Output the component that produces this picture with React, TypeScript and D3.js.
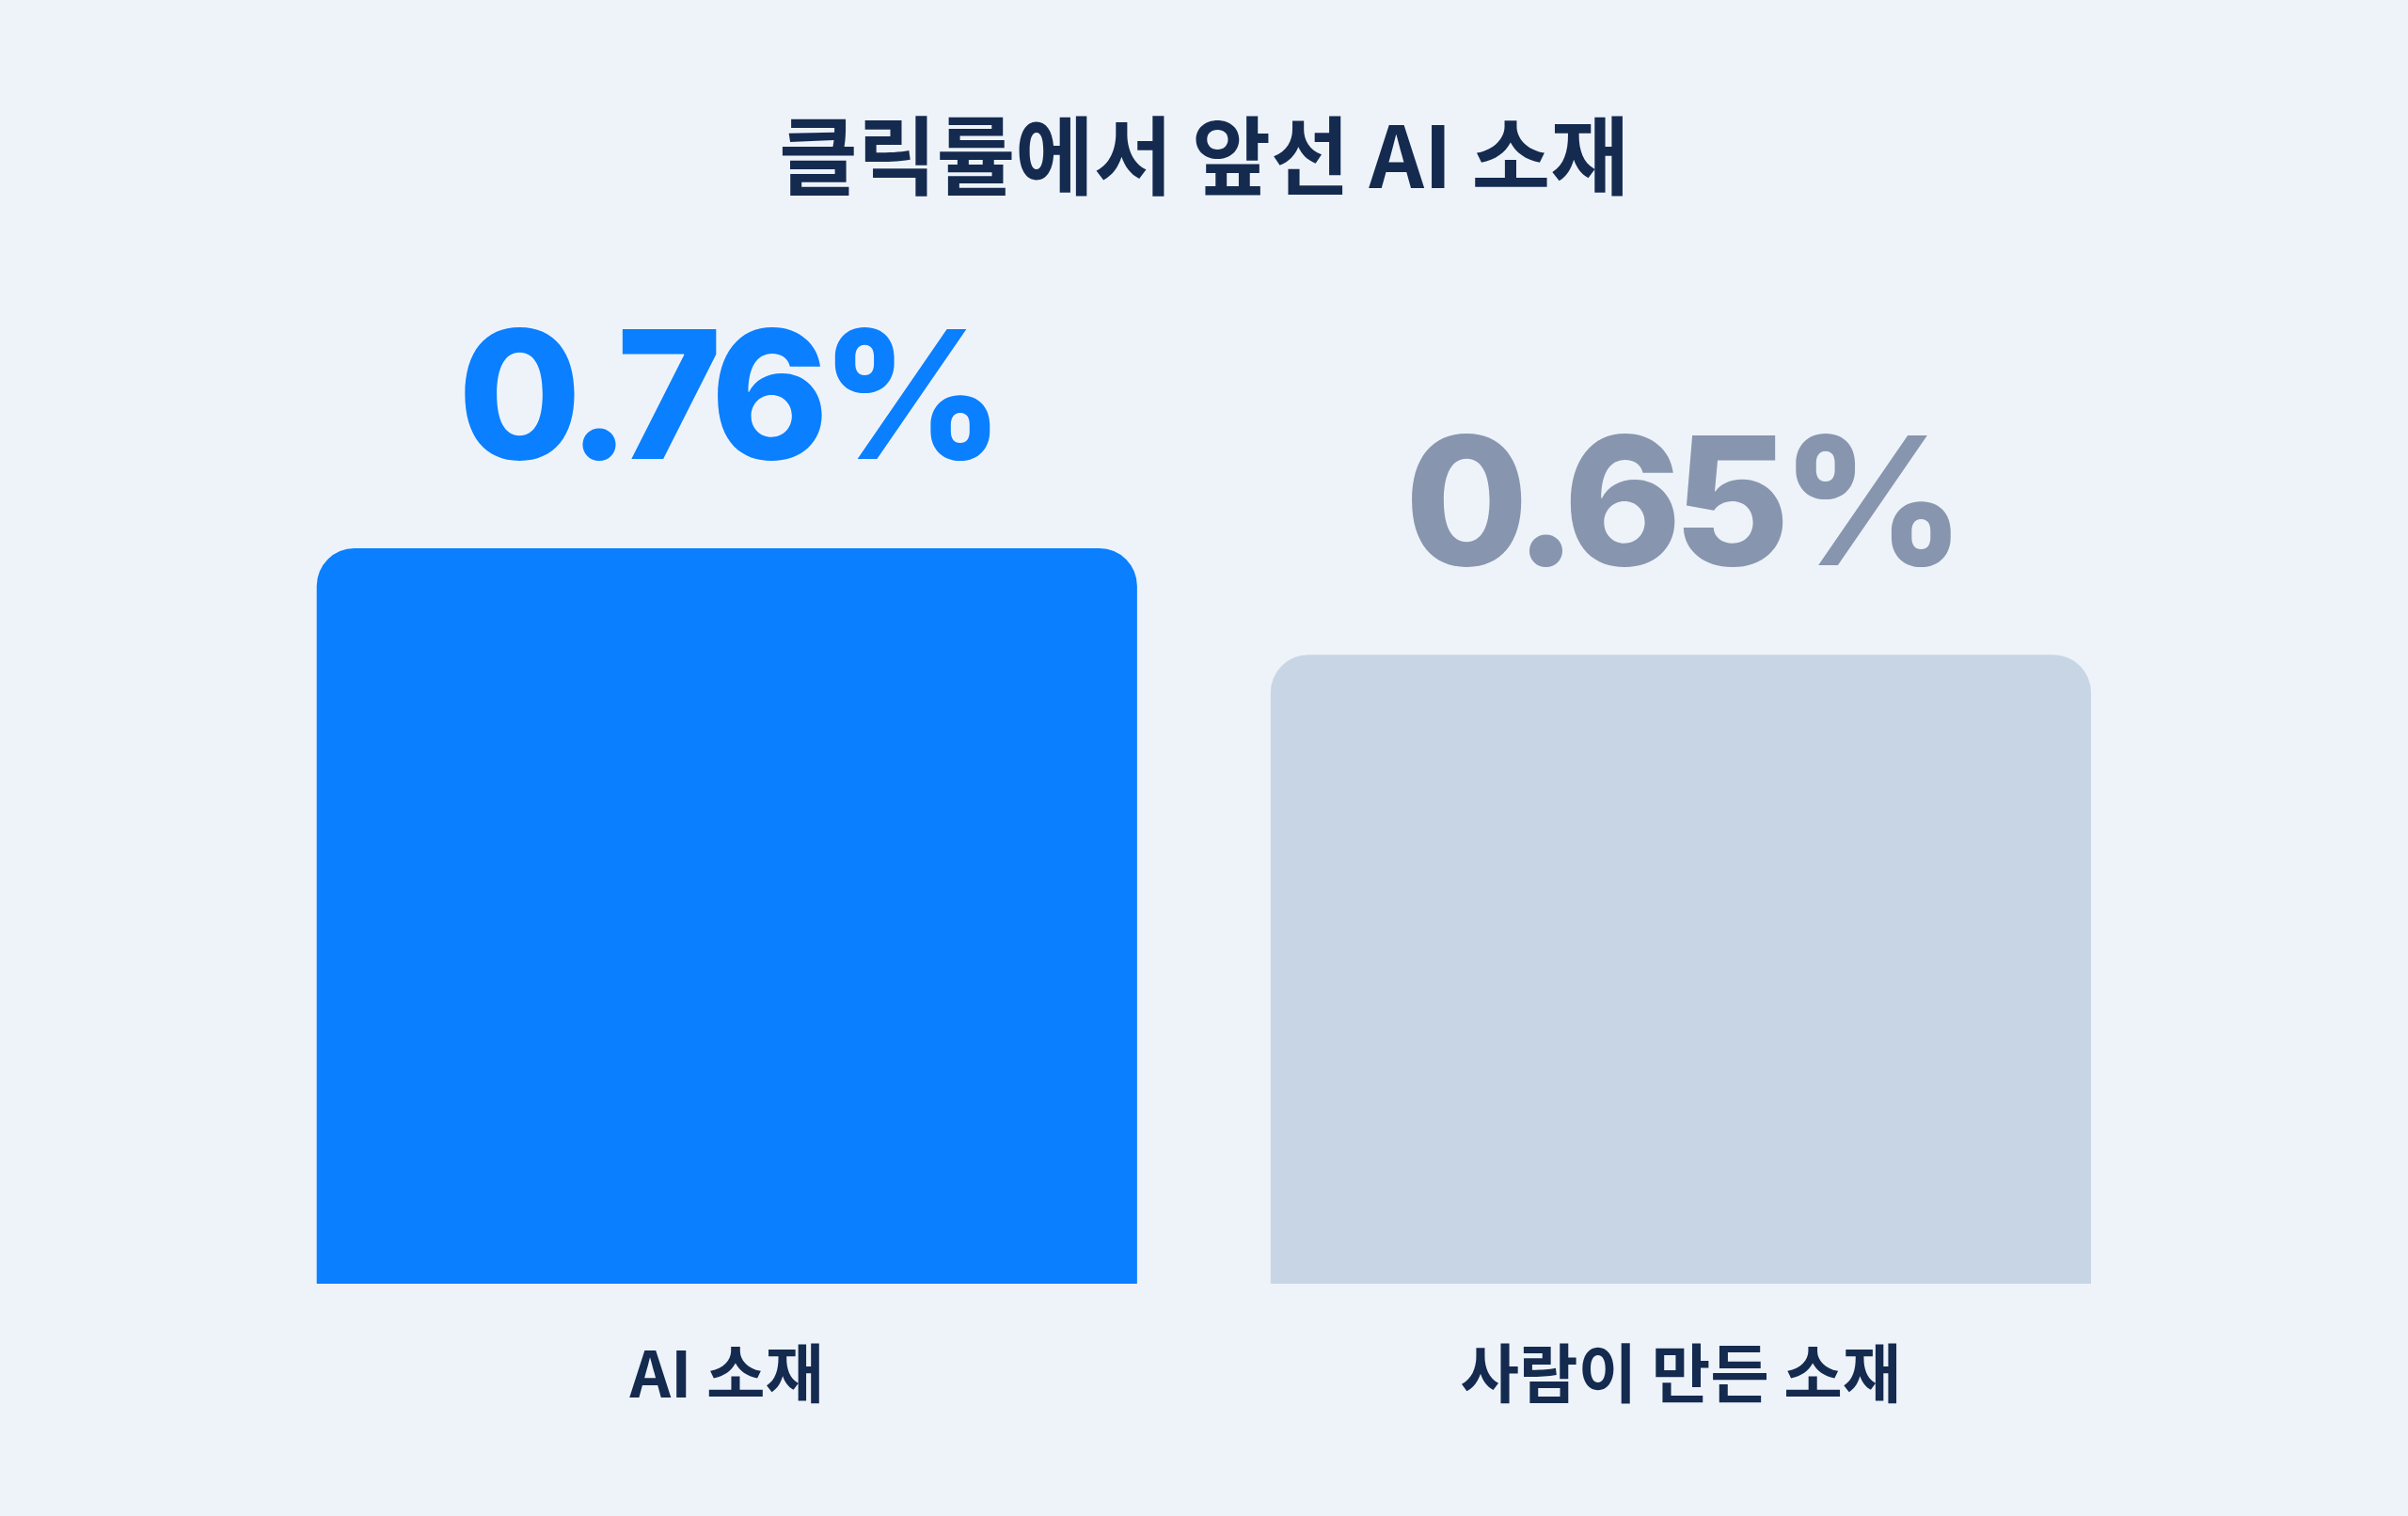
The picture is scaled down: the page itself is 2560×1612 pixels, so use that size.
import * as React from "react";
import * as d3 from "d3";

const categories = ["AI 소재", "사람이 만든 소재"];
const clickRates = [0.76, 0.65];
const valueLabels = ["0.76%", "0.65%"];
const title = "클릭률에서 앞선 AI 소재";

const WIDTH = 2560;
const HEIGHT = 1612;
const BASELINE = 1365;
const RADIUS = 40;

const BAR_FILL = ["#0A7FFF", "#C8D5E5"];
const LABEL_FILL = ["#0A7FFF", "#8796AE"];
const NAVY = "#142A4F";

function topRoundedRect(x: number, y: number, w: number, h: number, r: number) {
  const p = d3.path();
  p.moveTo(x, y + h);
  p.lineTo(x, y + r);
  p.arcTo(x, y, x + r, y, r);
  p.lineTo(x + w - r, y);
  p.arcTo(x + w, y, x + w, y + r, r);
  p.lineTo(x + w, y + h);
  p.closePath();
  return p.toString();
}

export default function App() {
  React.useEffect(() => {
    document.body.style.margin = "0";
  }, []);

  const x = d3
    .scaleBand<string>()
    .domain(categories)
    .range([336.7, 2223])
    .paddingInner(0.14)
    .paddingOuter(0);

  const y = d3.scaleLinear().domain([0, 0.76]).range([BASELINE, 583]);

  return (
    <svg width={WIDTH} height={HEIGHT} style={{ display: "block", background: "#EEF3FA" }}>
      <text
        x={WIDTH / 2}
        y={200}
        textAnchor="middle"
        fill={NAVY}
        fontFamily="'Noto Sans CJK KR', 'Noto Sans', sans-serif"
        fontWeight={700}
        fontSize={91}
      >
        {title}
      </text>

      {categories.map((c, i) => {
        const bx = x(c) ?? 0;
        const bw = x.bandwidth();
        const top = y(clickRates[i]);
        return (
          <g key={c}>
            <path d={topRoundedRect(bx, top, bw, BASELINE - top, RADIUS)} fill={BAR_FILL[i]} />
            <text
              x={bx + bw / 2}
              y={top - 95}
              textAnchor="middle"
              fill={LABEL_FILL[i]}
              fontFamily="Inter, 'Noto Sans', sans-serif"
              fontWeight={800}
              fontSize={190}
              letterSpacing={-9}
            >
              {valueLabels[i]}
            </text>
            <text
              x={bx + bw / 2}
              y={1486}
              textAnchor="middle"
              fill={NAVY}
              fontFamily="'Noto Sans CJK KR', 'Noto Sans', sans-serif"
              fontWeight={700}
              fontSize={68}
            >
              {c}
            </text>
          </g>
        );
      })}
    </svg>
  );
}
